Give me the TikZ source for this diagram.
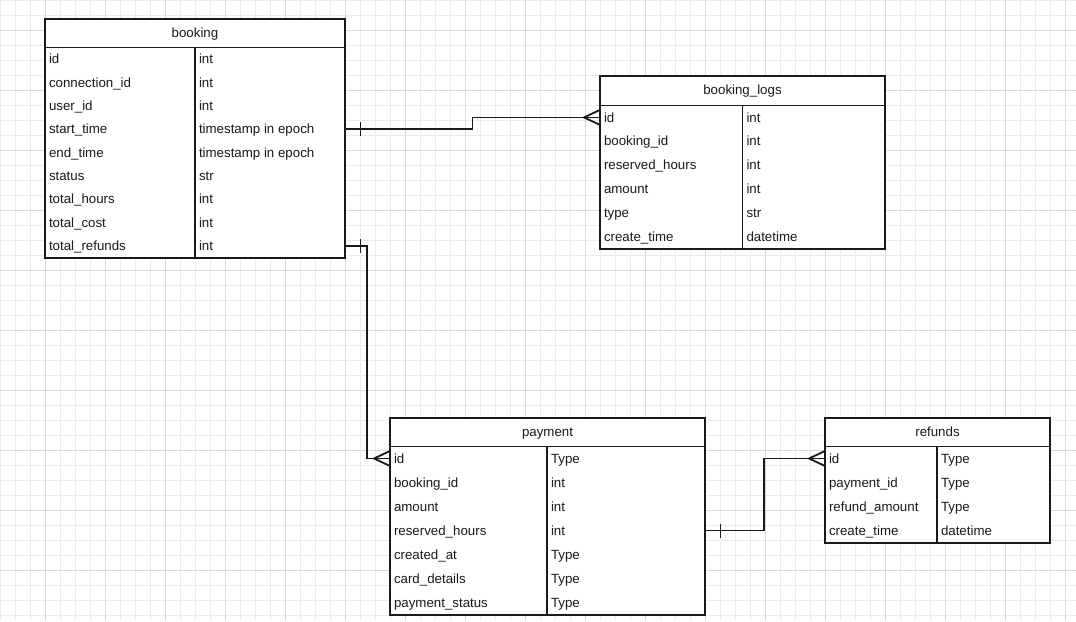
\documentclass[tikz,border=0pt]{standalone}
\usepackage{fontspec}
\setmainfont{Liberation Sans}
\usetikzlibrary{calc}
\definecolor{gridminor}{HTML}{EBEBEB}
\definecolor{gridmajor}{HTML}{DADADA}
\definecolor{ink}{HTML}{1A1A1A}
\tikzset{
  minorline/.style={draw=gridminor, line width=1pt},
  majorline/.style={draw=gridmajor, line width=1pt},
  rowbox/.style={draw=none, inner sep=0pt, outer sep=0pt},
  framebox/.style={draw=ink, fill=white, line width=2pt, inner sep=0pt, outer sep=0pt},
  celltext/.style={inner sep=0pt, outer sep=0pt, text=ink, text height=9.6pt, text depth=2.8pt, font=\fontsize{13.3}{15}\selectfont},
  conn/.style={draw=ink, line width=1.8pt},
  divline/.style={draw=ink, line width=1.8pt}
}
% #1 name, #2 left, #3 divider, #4 right, #5 ytop, #6 height, #7 col1, #8 col2
\newcommand\errow[8]{%
  \node[rowbox, minimum width={(#4-#2)*1pt}, minimum height={#6*1pt}, anchor=north west] (#1) at (#2,#5) {};
  \node[celltext, anchor=west] (#1-k) at ({#2+4},{#5+#6/2+1.3}) {#7};
  \node[celltext, anchor=west] (#1-v) at ({#3+4},{#5+#6/2+1.3}) {#8};
}
% #1 name, #2 left, #3 right, #4 top, #5 header bottom, #6 bottom, #7 divider, #8 title
\newcommand\ertable[8]{%
  \node[framebox, minimum width={(#3-#2)*1pt}, minimum height={(#6-#4)*1pt}, anchor=north west] (#1) at (#2,#4) {};
  \node[rowbox, minimum width={(#3-#2)*1pt}, minimum height={(#5-#4)*1pt}, anchor=north west] (#1-head) at (#2,#4) {};
  \node[celltext] (#1-title) at ([yshift=-1pt]#1-head.center) {#8};
  \draw[divline] (#1-head.south west) -- (#1-head.south east);
  \draw[divline] (#7,#5) -- (#7,#6);
}
\begin{document}
\begin{tikzpicture}[x=1pt,y=-1pt]
\useasboundingbox (0,0) rectangle (1076,621);
\fill[white] (0,0) rectangle (1076,621);
% grid
\foreach \x in {0,15,...,1075} \draw[minorline] (\x,0) -- (\x,621);
\foreach \y in {0,15,...,620} \draw[minorline] (0,\y) -- (1076,\y);
\foreach \x in {45,105,...,1075} \draw[majorline] (\x,0) -- (\x,621);
\foreach \y in {30,90,...,620} \draw[majorline] (0,\y) -- (1076,\y);

% booking
\ertable{booking}{45}{345}{18.5}{47.5}{257.5}{195}{booking}
\errow{bk-id}{45}{195}{345}{47.5}{23.33}{id}{int}
\errow{bk-conn}{45}{195}{345}{70.83}{23.33}{connection\_id}{int}
\errow{bk-user}{45}{195}{345}{94.17}{23.33}{user\_id}{int}
\errow{bk-start}{45}{195}{345}{117.5}{23.33}{start\_time}{timestamp in epoch}
\errow{bk-end}{45}{195}{345}{140.83}{23.33}{end\_time}{timestamp in epoch}
\errow{bk-status}{45}{195}{345}{164.17}{23.33}{status}{str}
\errow{bk-hours}{45}{195}{345}{187.5}{23.33}{total\_hours}{int}
\errow{bk-cost}{45}{195}{345}{210.83}{23.33}{total\_cost}{int}
\errow{bk-refunds}{45}{195}{345}{234.17}{23.33}{total\_refunds}{int}

% booking_logs
\ertable{logs}{600}{885}{75.5}{105.5}{248.5}{742.5}{booking\_logs}
\errow{lg-id}{600}{742.5}{885}{105.5}{23.83}{id}{int}
\errow{lg-booking}{600}{742.5}{885}{129.33}{23.83}{booking\_id}{int}
\errow{lg-reserved}{600}{742.5}{885}{153.17}{23.83}{reserved\_hours}{int}
\errow{lg-amount}{600}{742.5}{885}{177}{23.83}{amount}{int}
\errow{lg-type}{600}{742.5}{885}{200.83}{23.83}{type}{str}
\errow{lg-create}{600}{742.5}{885}{224.67}{23.83}{create\_time}{datetime}

% payment
\ertable{payment}{390}{705}{417.5}{446.5}{614.5}{547}{payment}
\errow{py-id}{390}{547}{705}{446.5}{24}{id}{Type}
\errow{py-booking}{390}{547}{705}{470.5}{24}{booking\_id}{int}
\errow{py-amount}{390}{547}{705}{494.5}{24}{amount}{int}
\errow{py-reserved}{390}{547}{705}{518.5}{24}{reserved\_hours}{int}
\errow{py-created}{390}{547}{705}{542.5}{24}{created\_at}{Type}
\errow{py-card}{390}{547}{705}{566.5}{24}{card\_details}{Type}
\errow{py-status}{390}{547}{705}{590.5}{24}{payment\_status}{Type}

% refunds
\ertable{refunds}{825}{1050}{417.5}{446.5}{542.5}{937}{refunds}
\errow{rf-id}{825}{937}{1050}{446.5}{24}{id}{Type}
\errow{rf-payment}{825}{937}{1050}{470.5}{24}{payment\_id}{Type}
\errow{rf-amount}{825}{937}{1050}{494.5}{24}{refund\_amount}{Type}
\errow{rf-create}{825}{937}{1050}{518.5}{24}{create\_time}{datetime}

% connector booking.start_time -> booking_logs.id
\draw[conn] (bk-start.east) -- ++(127.5,0) |- (lg-id.west);
\draw[conn] ([xshift=15.5pt,yshift=7pt]bk-start.east) -- ([xshift=15.5pt,yshift=-7pt]bk-start.east);
\draw[conn] ([yshift=7.5pt]lg-id.west) -- ([xshift=-16pt]lg-id.west) -- ([yshift=-7.5pt]lg-id.west);

% connector booking.total_refunds -> payment.id
\draw[conn] (bk-refunds.east) -- ++(22,0) |- (py-id.west);
\draw[conn] ([xshift=15.5pt,yshift=7pt]bk-refunds.east) -- ([xshift=15.5pt,yshift=-7pt]bk-refunds.east);
\draw[conn] ([yshift=7.5pt]py-id.west) -- ([xshift=-16pt]py-id.west) -- ([yshift=-7.5pt]py-id.west);

% connector payment.reserved_hours -> refunds.id
\draw[conn] (py-reserved.east) -- ++(59,0) |- (rf-id.west);
\draw[conn] ([xshift=15.5pt,yshift=7pt]py-reserved.east) -- ([xshift=15.5pt,yshift=-7pt]py-reserved.east);
\draw[conn] ([yshift=7.5pt]rf-id.west) -- ([xshift=-16pt]rf-id.west) -- ([yshift=-7.5pt]rf-id.west);
\end{tikzpicture}
\end{document}
